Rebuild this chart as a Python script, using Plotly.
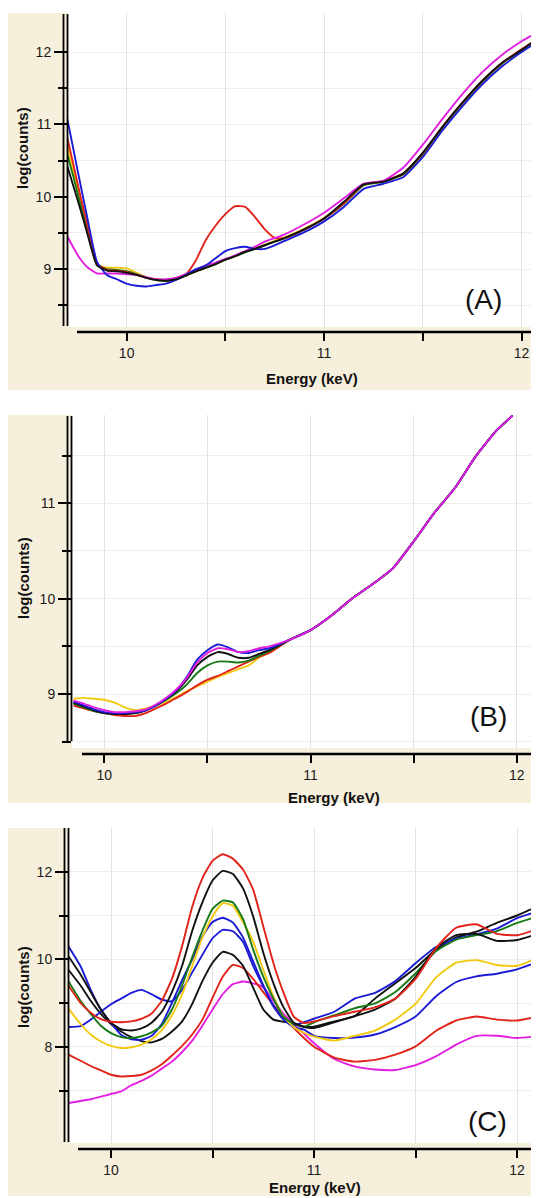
import plotly.graph_objects as go

# Page offset: the figure sits 8 px in from the page's top-left corner
OFF = 8
W, H = 539 - OFF, 1198 - OFF

# ---------------- Panel A data ----------------
XA = [9.70, 9.73, 9.76, 9.80, 9.85, 9.90, 9.95, 10.00, 10.05, 10.10, 10.15, 10.20, 10.25,
      10.30, 10.35, 10.40, 10.45, 10.50, 10.55, 10.60, 10.65, 10.70, 10.75, 10.80, 10.90,
      11.00, 11.10, 11.20, 11.30, 11.40, 11.50, 11.60, 11.70, 11.80, 11.90, 12.00, 12.09]
A_yellow = [10.70, 10.37, 10.02, 9.58, 9.07, 9.02, 9.02, 9.01, 8.95, 8.89, 8.85, 8.84, 8.86,
            8.91, 8.97, 9.02, 9.07, 9.13, 9.18, 9.24, 9.29, 9.34, 9.39, 9.44, 9.56,
            9.71, 9.91, 10.16, 10.21, 10.31, 10.59, 10.96, 11.29, 11.59, 11.84, 12.03, 12.19]
A_green = [10.58, 10.28, 9.96, 9.55, 9.06, 9.00, 8.99, 8.97, 8.93, 8.88, 8.85, 8.84, 8.86,
           8.91, 8.97, 9.02, 9.07, 9.13, 9.18, 9.23, 9.28, 9.33, 9.38, 9.43, 9.55,
           9.70, 9.90, 10.16, 10.21, 10.31, 10.59, 10.96, 11.29, 11.59, 11.84, 12.03, 12.18]
A_red = [10.81, 10.45, 10.08, 9.62, 9.07, 8.99, 8.98, 8.96, 8.92, 8.88, 8.86, 8.85, 8.88,
         8.93, 9.12, 9.40, 9.60, 9.76, 9.87, 9.86, 9.72, 9.55, 9.43, 9.43, 9.55,
         9.70, 9.91, 10.17, 10.22, 10.32, 10.60, 10.97, 11.30, 11.60, 11.85, 12.04, 12.20]
A_magenta = [9.45, 9.30, 9.16, 9.03, 8.94, 8.94, 8.94, 8.93, 8.92, 8.89, 8.86, 8.86, 8.88,
             8.93, 8.99, 9.05, 9.09, 9.14, 9.19, 9.25, 9.31, 9.38, 9.43, 9.48, 9.62,
             9.78, 9.98, 10.18, 10.22, 10.40, 10.72, 11.08, 11.42, 11.72, 11.96, 12.15, 12.29]
A_blue = [11.07, 10.66, 10.25, 9.72, 9.10, 8.92, 8.86, 8.80, 8.77, 8.76, 8.78, 8.80, 8.85,
          8.92, 9.00, 9.05, 9.15, 9.25, 9.29, 9.31, 9.28, 9.28, 9.33, 9.39, 9.51,
          9.66, 9.86, 10.11, 10.18, 10.27, 10.55, 10.92, 11.25, 11.55, 11.80, 12.00, 12.16]
A_black = [10.42, 10.15, 9.88, 9.50, 9.05, 8.98, 8.97, 8.95, 8.92, 8.88, 8.85, 8.84, 8.86,
           8.91, 8.97, 9.02, 9.07, 9.13, 9.18, 9.24, 9.28, 9.33, 9.38, 9.43, 9.55,
           9.70, 9.93, 10.17, 10.21, 10.32, 10.61, 10.97, 11.30, 11.60, 11.85, 12.03, 12.21]

# ---------------- Panel B data ----------------
XB = [9.85, 9.90, 9.95, 10.00, 10.05, 10.10, 10.15, 10.20, 10.25, 10.30, 10.35, 10.40,
      10.45, 10.50, 10.55, 10.60, 10.65, 10.70, 10.75, 10.80, 10.90, 11.00, 11.10, 11.20,
      11.30, 11.40, 11.50, 11.60, 11.70, 11.80, 11.90, 11.98]
B_tail = [9.57, 9.67, 9.82, 10.00, 10.15, 10.32, 10.60, 10.90, 11.16, 11.49, 11.76, 11.92]
B_yellow = [8.95, 8.96, 8.95, 8.94, 8.91, 8.86, 8.83, 8.85, 8.88, 8.92, 8.97, 9.03,
            9.08, 9.13, 9.18, 9.22, 9.26, 9.30, 9.38, 9.44] + B_tail
B_red = [8.88, 8.85, 8.82, 8.80, 8.78, 8.77, 8.77, 8.80, 8.85, 8.90, 8.96, 9.02,
         9.09, 9.15, 9.19, 9.24, 9.29, 9.34, 9.39, 9.43] + B_tail
B_green = [8.90, 8.86, 8.82, 8.80, 8.79, 8.79, 8.80, 8.83, 8.88, 8.94, 9.01, 9.10,
           9.22, 9.30, 9.34, 9.34, 9.33, 9.35, 9.40, 9.45] + B_tail
B_black = [8.91, 8.87, 8.83, 8.80, 8.79, 8.79, 8.80, 8.83, 8.88, 8.95, 9.03, 9.15,
           9.30, 9.39, 9.44, 9.42, 9.38, 9.38, 9.42, 9.46] + B_tail
B_blue = [8.92, 8.88, 8.84, 8.81, 8.80, 8.80, 8.81, 8.83, 8.88, 8.95, 9.04, 9.18,
          9.36, 9.46, 9.52, 9.49, 9.44, 9.43, 9.46, 9.48] + B_tail
B_magenta = [8.93, 8.90, 8.86, 8.83, 8.81, 8.81, 8.82, 8.84, 8.89, 8.96, 9.05, 9.17,
             9.33, 9.43, 9.48, 9.47, 9.44, 9.45, 9.48, 9.50] + B_tail

# ---------------- Panel C data ----------------
XC = [9.79, 9.85, 9.90, 9.95, 10.00, 10.05, 10.10, 10.15, 10.20, 10.25, 10.30, 10.35,
      10.40, 10.45, 10.50, 10.55, 10.60, 10.65, 10.70, 10.75, 10.80, 10.85, 10.90, 10.95,
      11.00, 11.10, 11.20, 11.30, 11.40, 11.50, 11.60, 11.70, 11.80, 11.90, 12.00, 12.10]
C_magenta = [6.71, 6.76, 6.80, 6.86, 6.92, 6.98, 7.12, 7.22, 7.34, 7.50, 7.66, 7.88,
             8.14, 8.48, 8.85, 9.20, 9.43, 9.49, 9.45, 9.36, 9.05, 8.75, 8.52, 8.30,
             8.08, 7.72, 7.55, 7.48, 7.47, 7.58, 7.78, 8.05, 8.25, 8.25, 8.20, 8.24]
C_red_low = [7.82, 7.68, 7.56, 7.46, 7.36, 7.32, 7.33, 7.36, 7.46, 7.60, 7.80, 8.02,
             8.28, 8.62, 9.12, 9.60, 9.87, 9.80, 9.55, 9.25, 8.95, 8.69, 8.43, 8.20,
             8.00, 7.75, 7.66, 7.70, 7.82, 8.01, 8.36, 8.60, 8.69, 8.62, 8.60, 8.69]
C_black_low = [9.76, 9.40, 9.05, 8.75, 8.52, 8.35, 8.22, 8.13, 8.10, 8.18, 8.35, 8.58,
               8.98, 9.50, 9.92, 10.17, 10.10, 9.85, 9.35, 8.85, 8.62, 8.57, 8.54, 8.46,
               8.46, 8.58, 8.70, 9.10, 9.45, 9.80, 10.22, 10.50, 10.63, 10.83, 11.00, 11.21]
C_blue_low = [8.45, 8.47, 8.62, 8.80, 8.97, 9.10, 9.23, 9.30, 9.20, 9.08, 9.04, 9.30,
              9.70, 10.10, 10.48, 10.67, 10.64, 10.40, 9.85, 9.38, 8.95, 8.62, 8.45, 8.39,
              8.25, 8.20, 8.21, 8.28, 8.45, 8.69, 9.15, 9.48, 9.61, 9.67, 9.77, 9.93]
C_blue_high = [10.30, 9.84, 9.30, 8.85, 8.54, 8.27, 8.17, 8.16, 8.25, 8.52, 9.00, 9.52,
               10.00, 10.52, 10.85, 10.95, 10.84, 10.50, 9.95, 9.40, 8.92, 8.62, 8.50, 8.56,
               8.64, 8.80, 9.10, 9.23, 9.50, 9.91, 10.28, 10.47, 10.57, 10.70, 10.94, 11.09]
C_yellow = [8.88, 8.52, 8.28, 8.12, 8.02, 7.97, 7.99, 8.05, 8.17, 8.38, 8.72, 9.20,
            9.85, 10.50, 10.98, 11.28, 11.22, 10.85, 10.40, 9.76, 9.15, 8.69, 8.45, 8.32,
            8.23, 8.14, 8.25, 8.37, 8.62, 8.98, 9.58, 9.92, 9.98, 9.87, 9.85, 10.03]
C_green = [9.50, 9.05, 8.75, 8.48, 8.31, 8.22, 8.20, 8.24, 8.33, 8.48, 8.85, 9.40,
           10.05, 10.65, 11.15, 11.34, 11.30, 10.92, 10.22, 9.60, 9.10, 8.68, 8.52, 8.46,
           8.56, 8.72, 8.88, 8.99, 9.25, 9.68, 10.18, 10.45, 10.55, 10.64, 10.83, 10.98]
C_black_high = [10.07, 9.65, 9.25, 8.85, 8.55, 8.40, 8.37, 8.42, 8.55, 8.80, 9.25, 9.85,
                10.65, 11.30, 11.80, 12.02, 11.95, 11.62, 10.98, 10.15, 9.45, 8.90, 8.55, 8.45,
                8.43, 8.56, 8.70, 8.85, 9.10, 9.60, 10.25, 10.55, 10.58, 10.42, 10.44, 10.58]
C_red_high = [9.40, 9.00, 8.78, 8.63, 8.57, 8.56, 8.58, 8.64, 8.76, 9.05, 9.55, 10.30,
              11.20, 11.85, 12.25, 12.40, 12.30, 12.05, 11.59, 10.75, 9.91, 9.23, 8.69, 8.54,
              8.58, 8.70, 8.80, 8.90, 9.10, 9.55, 10.25, 10.72, 10.80, 10.58, 10.55, 10.69]

X_TICKS = [10, 10.5, 11, 11.5, 12]
X_TICKTEXT = ["10", "", "11", "", "12"]

# ---------------- styles ----------------
RED = "#e2231a"
YELLOW = "#f2c90f"
GREEN = "#177a17"
BLACK = "#111111"
BLUE = "#1b1bd6"
MAGENTA = "#e21fe0"
BEIGE = "#f6efdc"
FONT = "Liberation Sans"

fig = go.Figure()


def add(xs, ys, color, xa, ya):
    fig.add_trace(go.Scatter(x=xs, y=ys, mode="lines",
                             line=dict(color=color, width=1.9, shape="spline", smoothing=0.5),
                             xaxis=xa, yaxis=ya, hoverinfo="skip", showlegend=False))


# Panel A
for ys, c in [(A_yellow, YELLOW), (A_green, GREEN), (A_red, RED), (A_magenta, MAGENTA),
              (A_blue, BLUE), (A_black, BLACK)]:
    add(XA, ys, c, "x", "y")
# Panel B
for ys, c in [(B_yellow, YELLOW), (B_red, RED), (B_green, GREEN), (B_black, BLACK),
              (B_blue, BLUE), (B_magenta, MAGENTA)]:
    add(XB, ys, c, "x2", "y2")
# Panel C
for ys, c in [(C_magenta, MAGENTA), (C_red_low, RED), (C_black_low, BLACK), (C_blue_low, BLUE),
              (C_blue_high, BLUE), (C_yellow, YELLOW), (C_green, GREEN), (C_black_high, BLACK),
              (C_red_high, RED)]:
    add(XC, ys, c, "x3", "y3")


def pxf(x):
    # screen pixel x -> paper fraction
    return (x - OFF) / W


def pyf(y):
    # screen pixel y -> paper fraction
    return 1 - (y - OFF) / H


tickfont = dict(family=FONT, size=14, color="#1a1a1a")


def xcfg(left, rng, pos):
    return dict(domain=[pxf(left), 1], range=rng, anchor="free", position=pyf(pos),
                tickmode="array", tickvals=X_TICKS, ticktext=X_TICKTEXT,
                ticks="outside", ticklen=8, tickwidth=2, tickcolor="black",
                showline=False, showgrid=True, gridcolor="#e2e2e2", gridwidth=1,
                zeroline=False, tickfont=tickfont, fixedrange=True)


def ycfg(top, bottom, rng, xa, major, minor):
    return dict(domain=[pyf(bottom), pyf(top)], range=rng, anchor=xa,
                tickmode="array", tickvals=major, ticks="outside", ticklen=13,
                tickwidth=1.5, tickcolor="black", showline=False, showgrid=True,
                gridcolor="#f1ede0", gridwidth=1, zeroline=False, tickfont=tickfont,
                fixedrange=True,
                minor=dict(tickmode="array", tickvals=minor, ticks="outside", ticklen=9,
                           tickwidth=1.5, tickcolor="black", showgrid=True,
                           gridcolor="#f1ede0"))


shapes = []
annotations = []

panels = [
    dict(bg=(7, 13, 539, 390), plot=(68, 13, 539, 327), ylines=(63.5, 67.5, 14, 326),
         xline=(77, 332), ylab=(22, 148), xlab=(312, 378), tag=(483, 299, "(A)")),
    dict(bg=(8, 415, 539, 803), plot=(72, 415, 539, 748), ylines=(67.5, 71.5, 416, 741),
         xline=(82, 754), ylab=(23, 578), xlab=(334, 797), tag=(488, 716, "(B)")),
    dict(bg=(8, 828, 539, 1196), plot=(69, 828, 539, 1143), ylines=(64.5, 68.5, 828, 1142),
         xline=(78, 1149), ylab=(23, 987), xlab=(315, 1187), tag=(487, 1121, "(C)")),
]

for p in panels:
    x0, y0, x1, y1 = p["bg"]
    shapes.append(dict(type="rect", xref="paper", yref="paper", x0=pxf(x0), x1=pxf(x1),
                       y0=pyf(y1), y1=pyf(y0), fillcolor=BEIGE, line=dict(width=0),
                       layer="below"))
    x0, y0, x1, y1 = p["plot"]
    shapes.append(dict(type="rect", xref="paper", yref="paper", x0=pxf(x0), x1=pxf(x1),
                       y0=pyf(y1), y1=pyf(y0), fillcolor="white", line=dict(width=0),
                       layer="below"))
    la, lb, ya0, ya1 = p["ylines"]
    for lx in (la, lb):
        shapes.append(dict(type="line", xref="paper", yref="paper", x0=pxf(lx), x1=pxf(lx),
                           y0=pyf(ya1), y1=pyf(ya0), line=dict(color="black", width=1.8),
                           layer="above"))
    xl, yl = p["xline"]
    shapes.append(dict(type="line", xref="paper", yref="paper", x0=pxf(xl), x1=pxf(539),
                       y0=pyf(yl), y1=pyf(yl), line=dict(color="black", width=2.5),
                       layer="above"))
    annotations.append(dict(text="<b>log(counts)</b>", xref="paper", yref="paper",
                            x=pxf(p["ylab"][0]), y=pyf(p["ylab"][1]), textangle=-90,
                            showarrow=False, xanchor="center", yanchor="middle",
                            font=dict(family=FONT, size=15, color="#111111")))
    annotations.append(dict(text="<b>Energy (keV)</b>", xref="paper", yref="paper",
                            x=pxf(p["xlab"][0]), y=pyf(p["xlab"][1]),
                            showarrow=False, xanchor="center", yanchor="middle",
                            font=dict(family=FONT, size=15, color="#111111")))
    tx, ty, tt = p["tag"]
    annotations.append(dict(text=tt, xref="paper", yref="paper", x=pxf(tx), y=pyf(ty),
                            showarrow=False, xanchor="center", yanchor="middle",
                            font=dict(family=FONT, size=28, color="#111111")))

fig.update_layout(
    width=W, height=H, margin=dict(l=0, r=0, t=0, b=0),
    paper_bgcolor="white", plot_bgcolor="white", showlegend=False,
    xaxis=xcfg(68, [9.703, 12.088], 332),
    yaxis=ycfg(13, 327, [8.20, 12.54], "x", [9, 10, 11, 12], [8.5, 9.5, 10.5, 11.5]),
    xaxis2=xcfg(72, [9.843, 12.108], 754),
    yaxis2=ycfg(415, 748, [8.434, 11.926], "x2", [9, 10, 11], [8.5, 9.5, 10.5, 11.5]),
    xaxis3=xcfg(69, [9.793, 12.108], 1149),
    yaxis3=ycfg(828, 1143, [5.80, 13.0], "x3", [8, 10, 12], [7, 9, 11]),
    shapes=shapes, annotations=annotations,
)

fig.write_html("out.html")
